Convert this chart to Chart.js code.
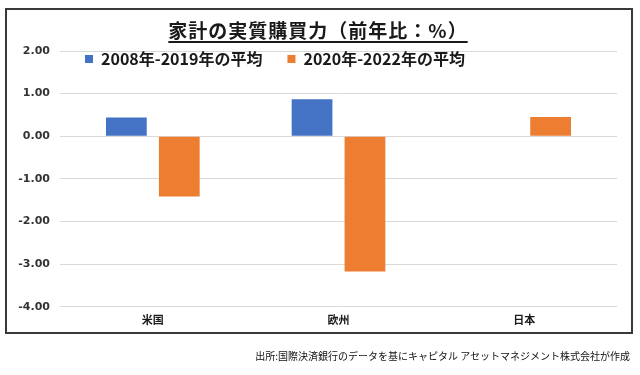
<!DOCTYPE html>
<html>
<head>
<meta charset="utf-8">
<script src="https://cdn.jsdelivr.net/npm/chart.js@4"></script>
<style>
  body { margin: 0; background: #fff; }
  #wrap { position: relative; width: 640px; height: 375px; overflow: hidden; }
  #frame { position: absolute; left: 5px; top: 8px; width: 624px; height: 322px; border: 2px solid #3a3a3a; }
  #title { position: absolute; left: 0; width: 636px; top: 16px; text-align: center;
    font: bold 19px "Noto Sans CJK JP", sans-serif; letter-spacing: 1px; color: #1a1a1a;
    text-decoration: underline; text-decoration-thickness: 2px; text-underline-offset: 3px; }
  #source { position: absolute; right: 10px; top: 348px;
    font: 10px "Noto Sans CJK JP", sans-serif; color: #111; }
  canvas { position: absolute; left: 0; top: 0; }
</style>
</head>
<body>
<div id="wrap">
  <div id="frame"></div>
  <canvas id="powerChart" width="640" height="375"></canvas>
  <div id="title">家計の実質購買力（前年比：%）</div>
  <div id="source">出所:国際決済銀行のデータを基にキャピタル アセットマネジメント株式会社が作成</div>
</div>
<script>
const regions = ['米国', '欧州', '日本'];
const seriesNames = ['2008年-2019年の平均', '2020年-2022年の平均'];
const avg2008to2019 = [0.44, 0.87, 0];
const avg2020to2022 = [-1.41, -3.17, 0.45];

const ctx = document.getElementById('powerChart').getContext('2d');

// the legend sits inside the plot in the original, just under the 2.00 line
const legendNudge = {
    id: 'legendNudge',
    afterLayout(chart) {
        const lg = chart.legend;
        const area = chart.chartArea;
        if (!lg) return;
        lg.left = area.left;
        lg.right = area.right;
        lg.top = area.top - 25;
        lg.bottom = lg.top + lg.height;
    }
};

new Chart(ctx, {
    type: 'bar',
    data: {
        labels: regions,
        datasets: [{
            label: seriesNames[0],
            data: avg2008to2019,
            backgroundColor: '#4472C4',
            categoryPercentage: 0.57,
            barPercentage: 0.77
        }, {
            label: seriesNames[1],
            data: avg2020to2022,
            backgroundColor: '#ED7D31',
            categoryPercentage: 0.57,
            barPercentage: 0.77
        }]
    },
    options: {
        responsive: false,
        animation: false,
        layout: {
            padding: { top: 0, right: 23, bottom: 43, left: 0 }
        },
        plugins: {
            title: { display: false },
            tooltip: { enabled: false },
            legend: {
                position: 'top',
                align: 'start',
                labels: {
                    boxWidth: 8,
                    boxHeight: 8,
                    padding: 25,
                    color: '#1a1a1a',
                    font: { family: '"Noto Sans CJK JP", sans-serif', size: 16, weight: 'bold' }
                }
            }
        },
        scales: {
            x: {
                grid: { display: false, drawTicks: false },
                border: { display: false },
                ticks: {
                    padding: 6,
                    color: '#1a1a1a',
                    font: { family: '"Noto Sans CJK JP", sans-serif', size: 11, weight: 'bold' }
                }
            },
            y: {
                min: -4,
                max: 2,
                ticks: {
                    stepSize: 1,
                    padding: 10,
                    color: '#333333',
                    font: { family: '"DejaVu Sans", sans-serif', size: 11, weight: 'bold' },
                    callback: v => v.toFixed(2)
                },
                grid: { color: '#D9D9D9', drawTicks: false },
                border: { display: false },
                afterFit(scale) { scale.width = 60; }
            }
        }
    },
    plugins: [legendNudge]
});
</script>
</body>
</html>
